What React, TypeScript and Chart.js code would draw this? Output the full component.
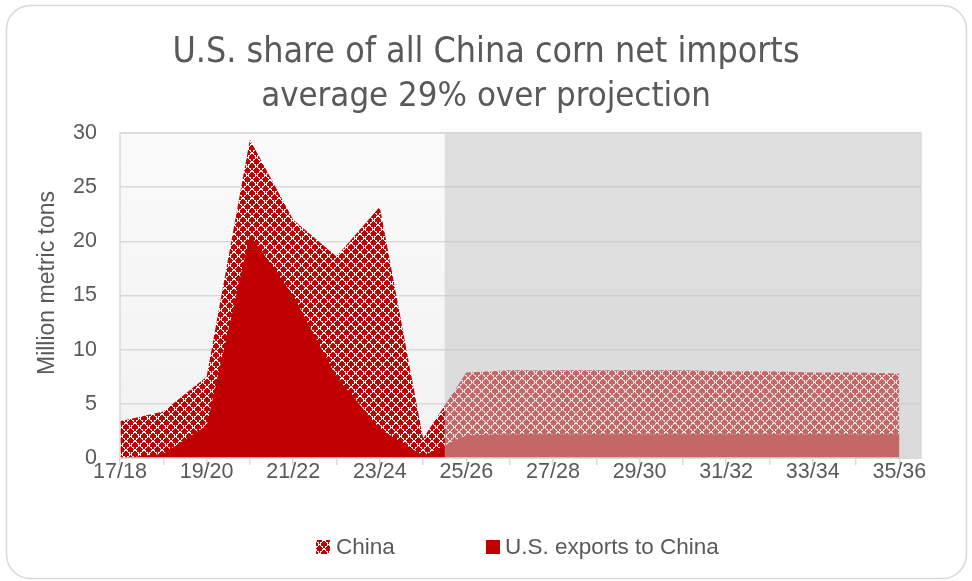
import React, { useEffect, useRef } from "react";
import { Chart, registerables } from "chart.js";

Chart.register(...registerables);

const categories = [
  "17/18", "18/19", "19/20", "20/21", "21/22", "22/23", "23/24", "24/25",
  "25/26", "26/27", "27/28", "28/29", "29/30", "30/31", "31/32", "32/33",
  "33/34", "34/35", "35/36",
];
const chinaImports = [3.4, 4.3, 7.5, 29.4, 22.0, 18.6, 23.2, 1.8, 7.9, 8.1, 8.1, 8.1, 8.1, 8.1, 8.0, 8.0, 7.9, 7.9, 7.8];
const usExportsToChina = [0, 0.4, 3.0, 20.6, 15.0, 7.5, 2.7, 0.2, 2.1, 2.2, 2.2, 2.2, 2.2, 2.2, 2.2, 2.2, 2.2, 2.2, 2.2];
const seriesNames = ["China", "U.S. exports to China"];
const titleLines = ["U.S. share of all China corn net imports", "average 29% over projection"];
const yAxisTitle = "Million metric tons";
const yTickValues = [0, 5, 10, 15, 20, 25, 30];
const projectionStartIndex = 7.5;

const RED = "#c00000";
const TEXT = "#595959";
const GRID = "#d9d9d9";
const FONT = "'Liberation Sans', Arial, sans-serif";
const TITLE_FONT = "'Liberation Sans Narrow', 'DejaVu Sans Condensed', 'Liberation Sans', sans-serif";

function makePattern(fg: string, bg: string, size: number) {
  const c = document.createElement("canvas");
  c.width = size;
  c.height = size;
  const x = c.getContext("2d")!;
  x.fillStyle = bg;
  x.fillRect(0, 0, size, size);
  x.fillStyle = fg;
  for (let i = 0; i < size; i++) {
    x.fillRect(i, i, 1, 1);
    x.fillRect(size - 1 - i, i, 1, 1);
    if (i % 2 === 0) {
      x.fillRect((i + 1) % size, i, 1, 1);
      x.fillRect((size - 2 - i + size) % size, i, 1, 1);
    }
  }
  return x.createPattern(c, "repeat")!;
}

export default function App() {
  const ref = useRef<HTMLCanvasElement | null>(null);

  useEffect(() => {
    const canvas = ref.current!;
    const pattern = makePattern("#ffffff", RED, 9);

    const decor = {
      id: "decor",
      beforeDraw(chart: any) {
        const { ctx, chartArea: a } = chart;
        ctx.save();
        ctx.fillStyle = "#ffffff";
        ctx.fillRect(0, 0, chart.width, chart.height);
        ctx.beginPath();
        ctx.roundRect(6.5, 5.5, 960, 573, 24);
        ctx.strokeStyle = GRID;
        ctx.lineWidth = 1.5;
        ctx.stroke();
        const g = ctx.createLinearGradient(0, a.top, 0, a.bottom);
        g.addColorStop(0, "#fafafa");
        g.addColorStop(1, "#f2f2f2");
        ctx.fillStyle = g;
        ctx.fillRect(a.left, a.top, a.right - a.left, a.bottom - a.top);
        // title
        ctx.fillStyle = TEXT;
        ctx.textAlign = "center";
        ctx.textBaseline = "alphabetic";
        ctx.font = `35.5px ${TITLE_FONT}`;
        ctx.fillText(titleLines[0], 486, 62);
        ctx.font = `34.5px ${TITLE_FONT}`;
        ctx.fillText(titleLines[1], 486, 106);
        // y axis title
        ctx.save();
        ctx.translate(48, 283);
        ctx.rotate(-Math.PI / 2);
        ctx.font = `23px ${FONT}`;
        ctx.textBaseline = "middle";
        ctx.fillText(yAxisTitle, 0, 0);
        ctx.restore();
        ctx.restore();
      },
      afterDatasetsDraw(chart: any) {
        const { ctx, chartArea: a, scales } = chart;
        const x0 = scales.x.getPixelForValue(projectionStartIndex);
        ctx.save();
        ctx.fillStyle = "rgba(198,198,198,0.52)";
        ctx.fillRect(x0, a.top, a.right - x0, a.bottom - a.top);
        ctx.restore();
      },
      afterDraw(chart: any) {
        const { ctx, chartArea: a } = chart;
        ctx.save();
        ctx.strokeStyle = GRID;
        ctx.lineWidth = 1.5;
        ctx.strokeRect(a.left, a.top, a.right - a.left, a.bottom - a.top);
        // legend
        ctx.font = `22.5px ${FONT}`;
        ctx.textBaseline = "middle";
        ctx.textAlign = "left";
        const y = 547;
        ctx.fillStyle = pattern;
        ctx.fillRect(316, y - 7, 14, 14);
        ctx.fillStyle = TEXT;
        ctx.fillText(seriesNames[0], 336, y + 1);
        ctx.fillStyle = RED;
        ctx.fillRect(486, y - 7, 14, 14);
        ctx.fillStyle = TEXT;
        ctx.fillText(seriesNames[1], 505, y + 1);
        ctx.restore();
      },
    };

    const chart = new Chart(canvas, {
      type: "line",
      data: {
        datasets: [
          {
            label: seriesNames[1],
            data: usExportsToChina.map((v, i) => ({ x: i, y: v })),
            backgroundColor: RED,
            borderWidth: 0,
            pointRadius: 0,
            fill: "origin",
            tension: 0,
          },
          {
            label: seriesNames[0],
            data: chinaImports.map((v, i) => ({ x: i, y: v })),
            backgroundColor: pattern as any,
            borderWidth: 0,
            pointRadius: 0,
            fill: "origin",
            tension: 0,
          },
        ],
      },
      options: {
        animation: false,
        responsive: false,
        maintainAspectRatio: false,
        layout: { padding: { left: 0, top: 133, right: 51, bottom: 0 } },
        plugins: { legend: { display: false }, title: { display: false }, tooltip: { enabled: false } },
        scales: {
          x: {
            type: "linear",
            min: 0,
            max: categories.length - 0.5,
            afterBuildTicks: (s: any) => {
              s.ticks = categories.map((_, i) => ({ value: i }));
            },
            afterFit: (s: any) => {
              s.height = 123;
            },
            ticks: {
              autoSkip: false,
              maxRotation: 0,
              padding: -6,
              color: TEXT,
              font: { family: FONT, size: 21.5 },
              callback: (v: any) => (Number(v) % 2 === 0 ? categories[Number(v)] : ""),
            },
            grid: { drawOnChartArea: false, drawTicks: true, tickLength: 7, color: GRID, lineWidth: 1.5 },
            border: { display: true, color: GRID, width: 1.5 },
          },
          y: {
            min: 0,
            max: 30,
            afterBuildTicks: (s: any) => {
              s.ticks = yTickValues.map((v) => ({ value: v }));
            },
            afterFit: (s: any) => {
              s.width = 120;
            },
            ticks: { padding: 23, color: TEXT, font: { family: FONT, size: 21.5 } },
            grid: { color: GRID, lineWidth: 1.5, drawTicks: false },
            border: { display: false },
            title: { display: false },
          },
        },
      },
      plugins: [decor],
    });
    return () => chart.destroy();
  }, []);

  return (
    <div style={{ position: "fixed", left: 0, top: 0, width: 972, height: 581, background: "#fff" }}>
      <canvas ref={ref} width={972} height={581} style={{ display: "block", width: 972, height: 581 }} />
    </div>
  );
}
